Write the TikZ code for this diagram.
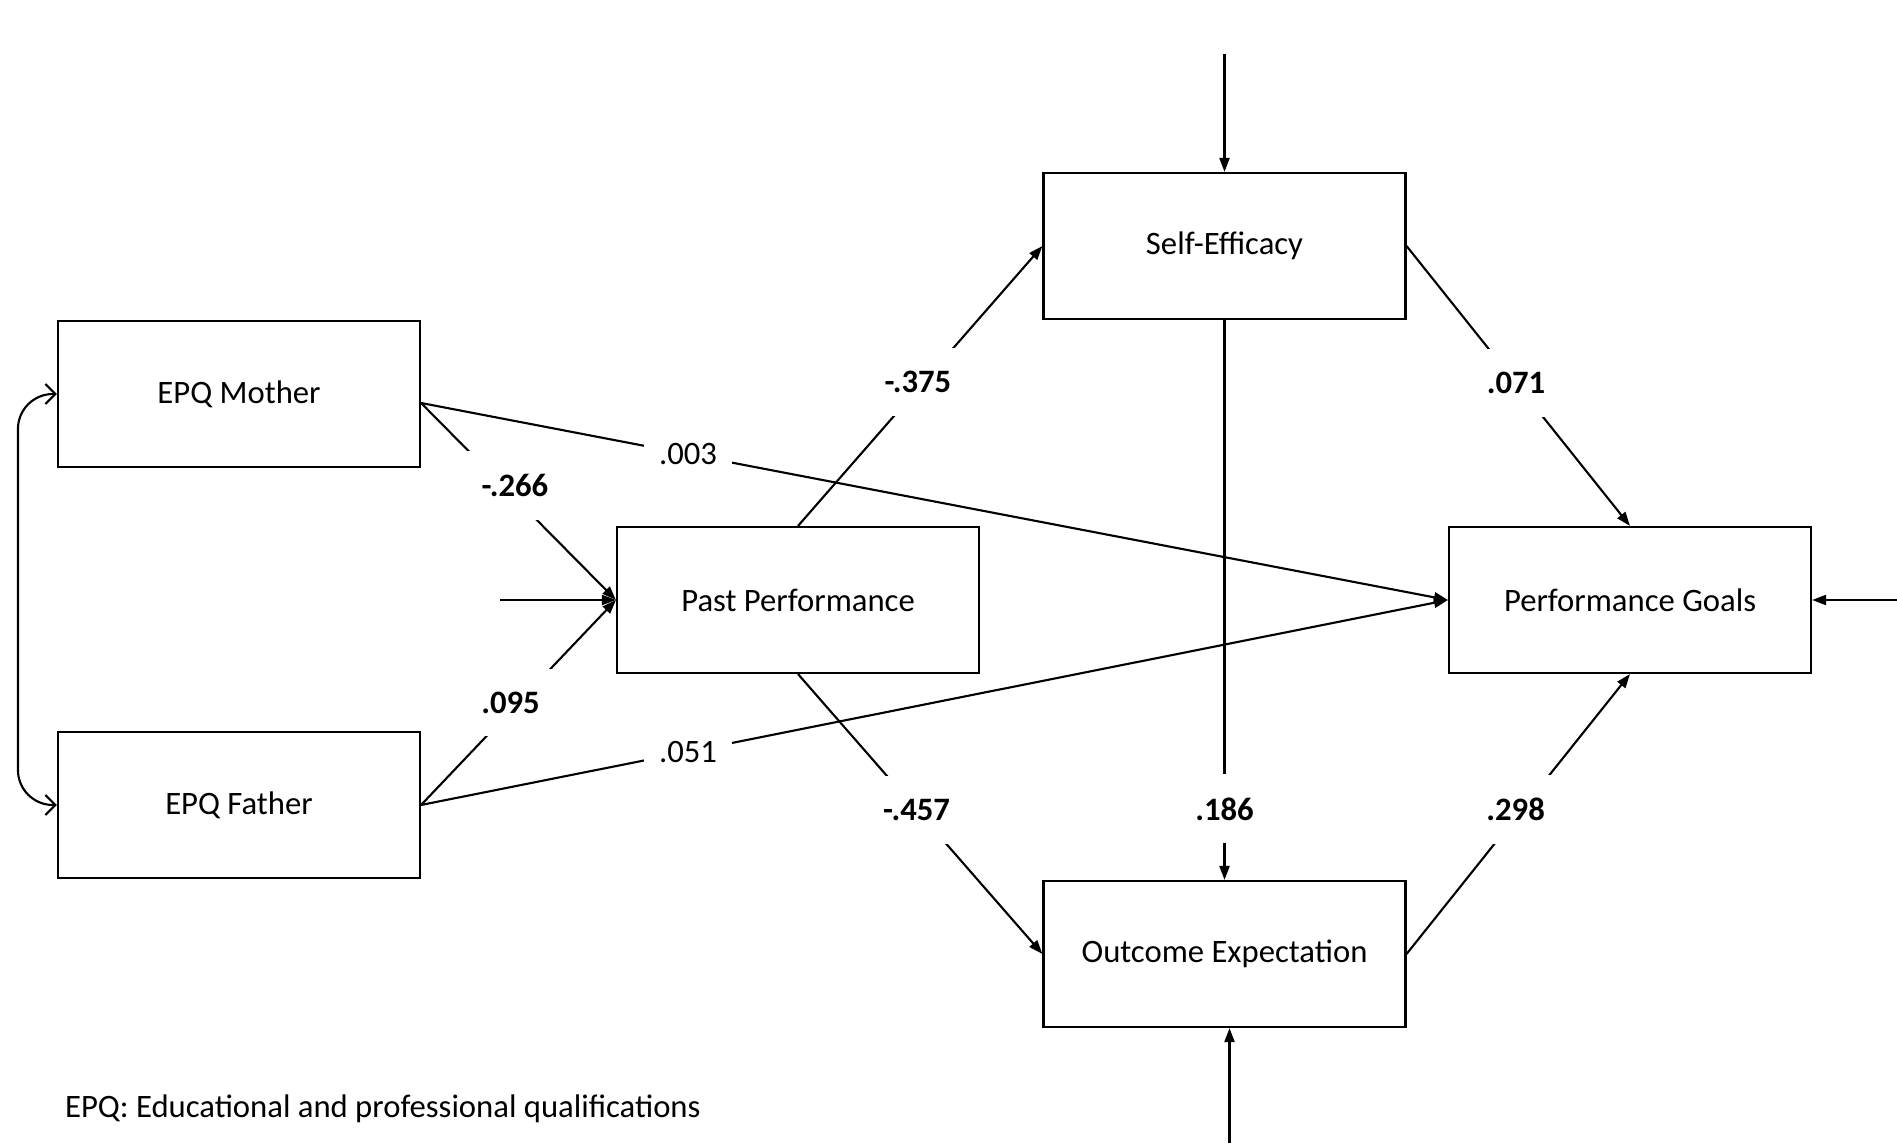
\documentclass[tikz,border=0pt]{standalone}
\usepackage{fontspec}
\setmainfont{Carlito}
\usetikzlibrary{arrows.meta}
\begin{document}
\begin{tikzpicture}[line width=0.6pt,
  every node/.style={font=\fontsize{9.3}{11}\selectfont},
  box/.style={draw,minimum width=3.62cm,minimum height=1.46cm,inner sep=0pt},
  arr/.style={-{Triangle[length=1.4mm,width=1mm]}},
  coef/.style={fill=white,inner xsep=0.15cm,inner ysep=0.23cm,font=\fontsize{9.3}{11}\selectfont\bfseries},
  plaincoef/.style={fill=white,inner xsep=0.15cm,inner ysep=0.1cm}]
\useasboundingbox (0,0) rectangle (18.97,11.43);
\node[box] (mother) at (2.39, 7.49) {EPQ Mother};
\node[box] (father) at (2.39, 3.38) {EPQ Father};
\node[box] (past) at (7.98, 5.43) {Past Performance};
\node[box] (self) at (12.245, 8.97) {Self-Efficacy};
\node[box] (goals) at (16.30, 5.43) {Performance Goals};
\node[box] (outcome) at (12.245, 1.89) {Outcome Expectation};
\node[anchor=west,inner sep=0pt] (note) at (0.64, 0.34) {EPQ: Educational and professional qualifications};
\coordinate (epast) at (5.00, 5.43);
\coordinate (eself) at (12.245, 10.89);
\coordinate (egoals) at (18.97, 5.43);
\coordinate (eoutcome) at (12.295, 0);
\draw[arr] ([yshift=-0.09cm]mother.east) -- node[coef,pos=0.42,xshift=0.12cm] {-.266} (past.west);
\draw[arr] ([yshift=-0.09cm]mother.east) -- node[plaincoef,pos=0.26] {.003} (goals.west);
\draw[arr] (father.east) -- node[coef,pos=0.5,xshift=-0.08cm] {.095} (past.west);
\draw[arr] (father.east) -- node[plaincoef,pos=0.26] {.051} (goals.west);
\draw[arr] (epast) -- (past.west);
\draw[arr] (past.north) -- node[coef,pos=0.515,xshift=-0.06cm] {-.375} (self.west);
\draw[arr] (past.south) -- node[coef,pos=0.485] {-.457} (outcome.west);
\draw[arr] (self.east) -- node[coef,pos=0.49] {.071} (goals.north);
\draw[arr] (self.south) -- node[coef,pos=0.873] {.186} (outcome.north);
\draw[arr] (outcome.east) -- node[coef,pos=0.515,xshift=-0.06cm] {.298} (goals.south);
\draw[arr] (eself) -- (self.north);
\draw[arr] (egoals) -- (goals.east);
\draw[arr] (eoutcome) -- ([xshift=0.05cm]outcome.south);
\draw[{Straight Barb[length=1mm,width=2mm]}-{Straight Barb[length=1mm,width=2mm]},rounded corners=0.35cm]
  (mother.west) -| ([xshift=-0.39cm]father.west) -- (father.west);
\end{tikzpicture}
\end{document}
